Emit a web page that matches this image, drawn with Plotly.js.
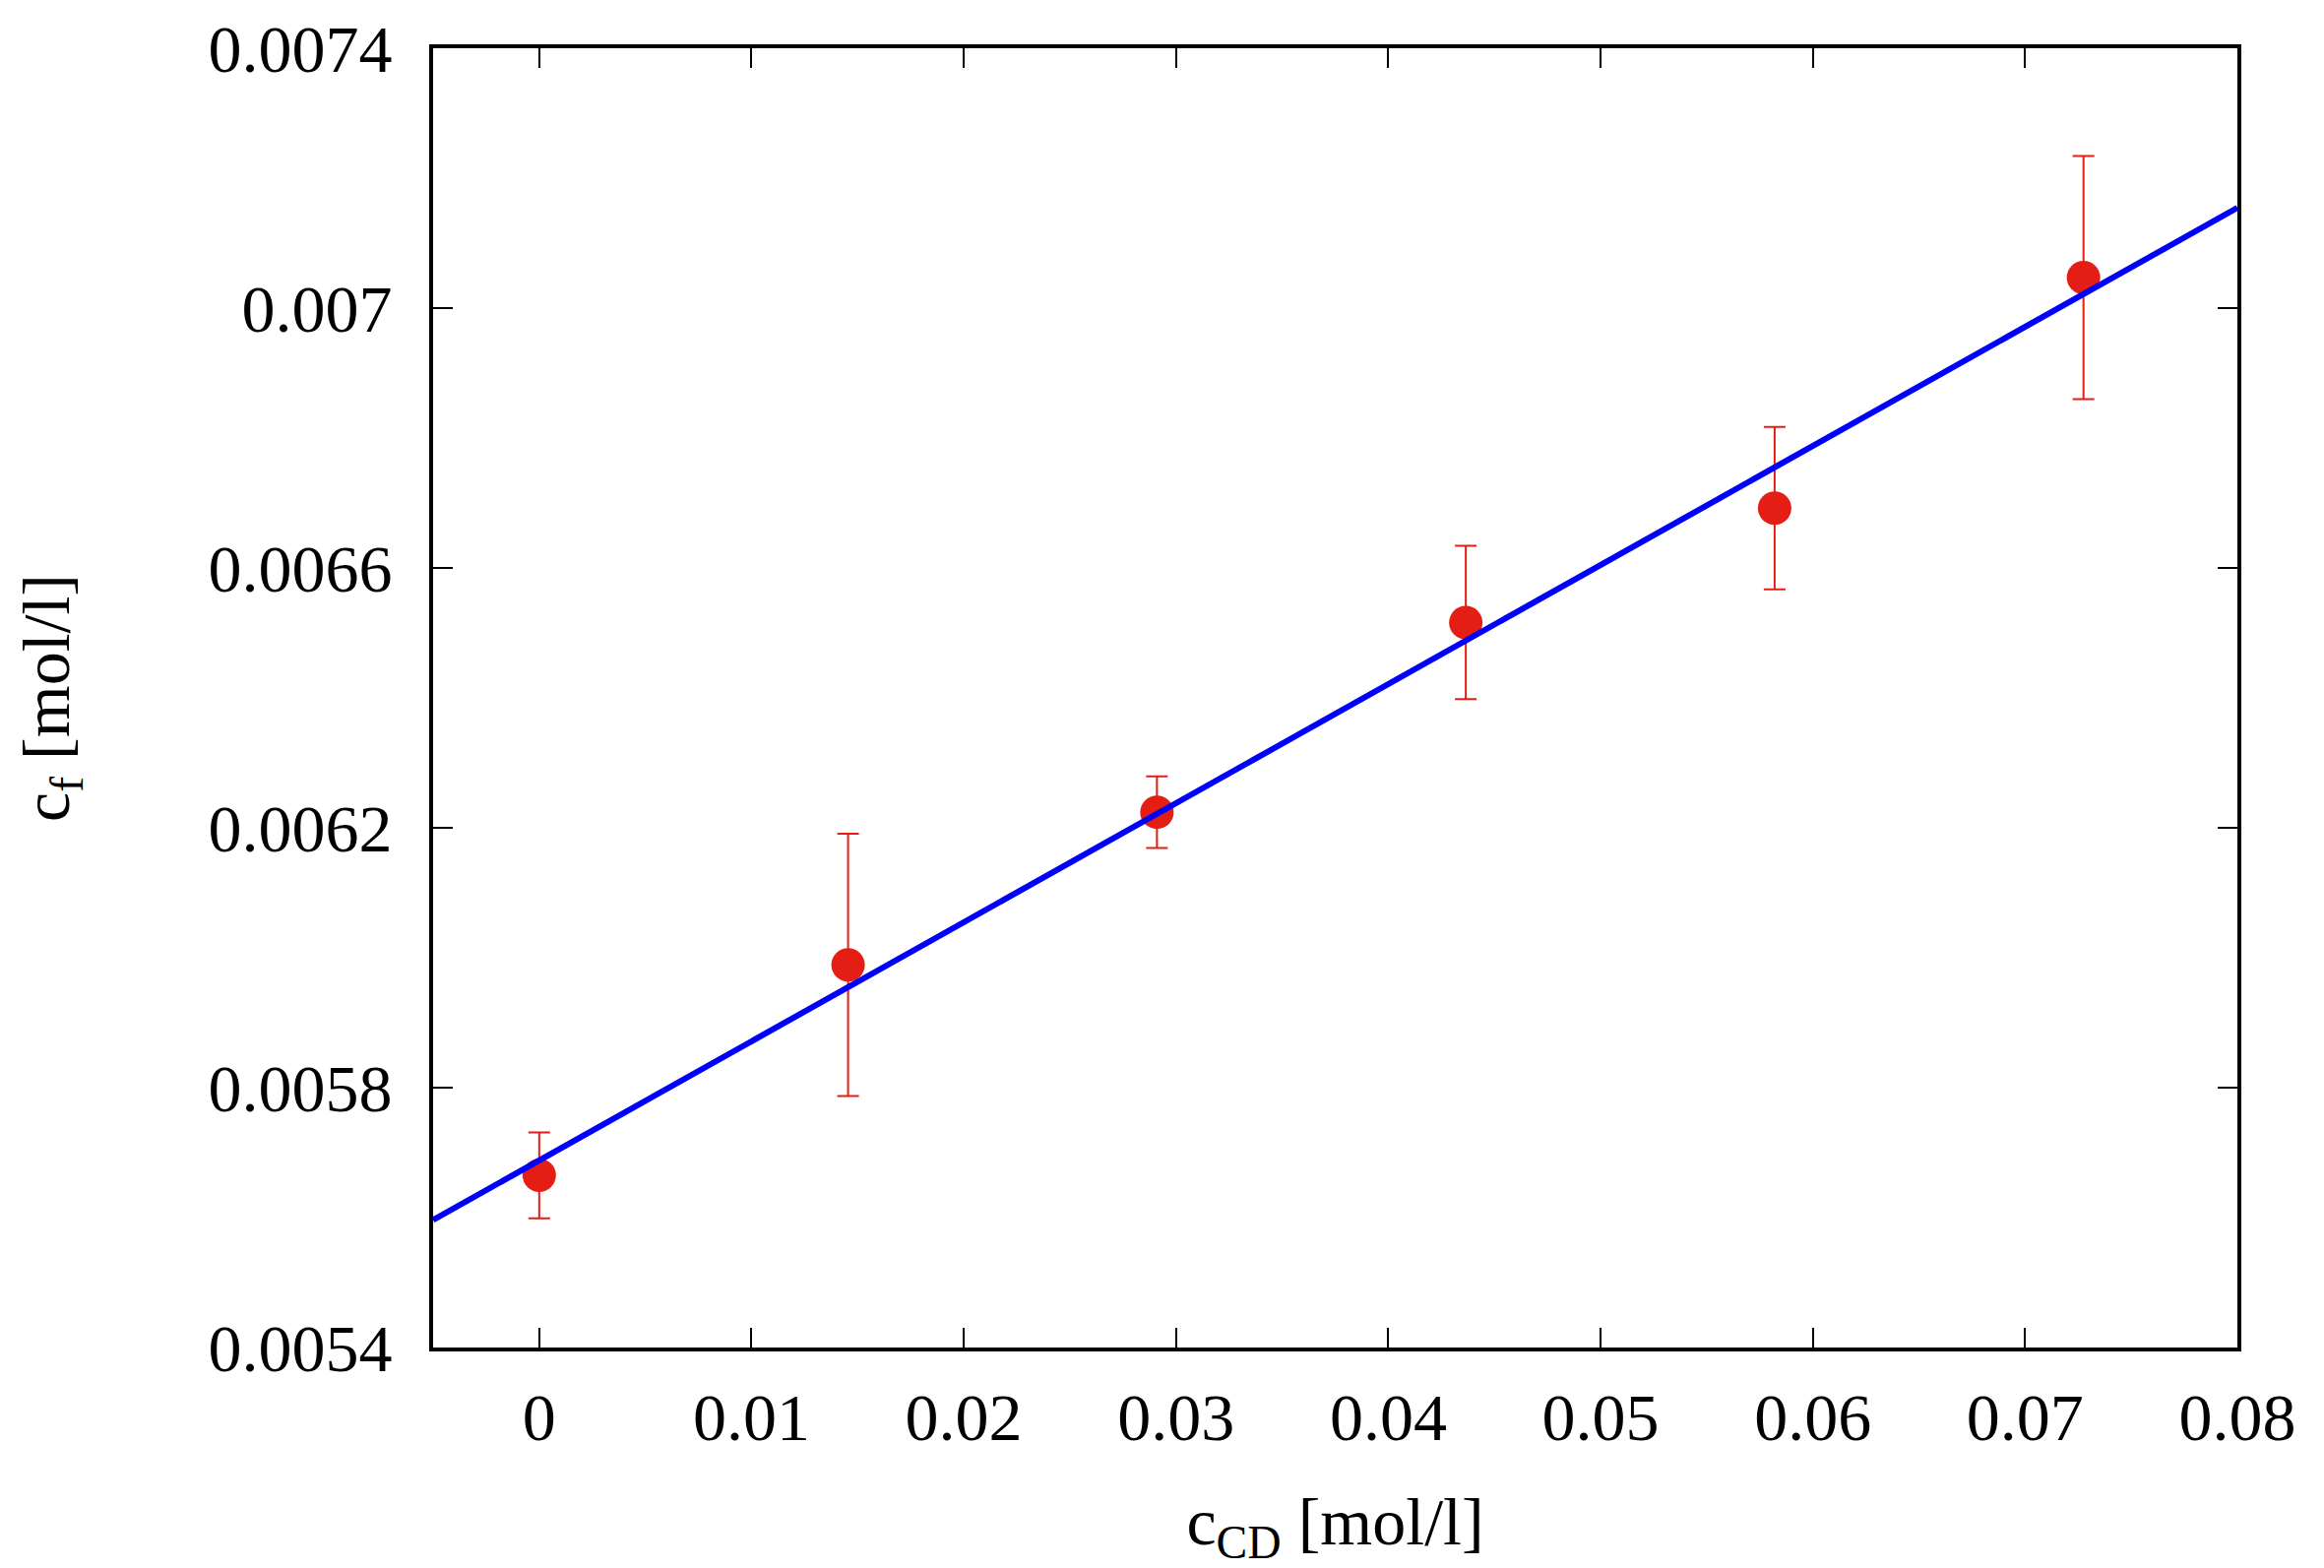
<!DOCTYPE html>
<html>
<head>
<meta charset="utf-8">
<script src="https://cdn.plot.ly/plotly-3.0.1.min.js"></script>
<style>html,body{margin:0;padding:0;background:#fff;}#chart{width:2361px;height:1593px;}</style>
</head>
<body>
<div id="chart"></div>
<script>
// Data
var cCD = [0, 0.01455, 0.0291, 0.04365, 0.0582, 0.07275];
var cF = [0.005665, 0.005989, 0.006224, 0.006516, 0.006692, 0.007047];
var cFErr = [0.000066, 0.000202, 0.000055, 0.000118, 0.000125, 0.000187];
// Linear fit parameters
var fitIntercept = 0.005688;
var fitSlope = 0.01833;
var fitRange = [-0.005, 0.08];

var xTicks = [0, 0.01, 0.02, 0.03, 0.04, 0.05, 0.06, 0.07, 0.08];
var xTickText = ['0', '0.01', '0.02', '0.03', '0.04', '0.05', '0.06', '0.07', '0.08'];
var yTicks = [0.0054, 0.0058, 0.0062, 0.0066, 0.007, 0.0074];
var yTickText = ['0.0054', '0.0058', '0.0062', '0.0066', '0.007', '0.0074'];

var fitY = fitRange.map(function (x) { return fitIntercept + fitSlope * x; });

var font = {family: 'Liberation Serif, Times New Roman, serif', size: 68, color: '#000'};

var data = [
  {
    x: cCD, y: cF, type: 'scatter', mode: 'markers',
    marker: {size: 34, color: '#e41e14'},
    error_y: {type: 'data', array: cFErr, visible: true, color: '#e41e14', thickness: 2, width: 11},
    hoverinfo: 'x+y', showlegend: false
  },
  {
    x: fitRange, y: fitY, type: 'scatter', mode: 'lines',
    line: {color: '#0000ff', width: 6},
    showlegend: false
  }
];

var axisCommon = {
  showline: true, linecolor: '#000', linewidth: 4, mirror: 'ticks',
  ticks: 'inside', ticklen: 20, tickwidth: 2, tickcolor: '#000',
  showgrid: false, zeroline: false, tickfont: font, tickmode: 'array'
};

var layout = {
  width: 2361, height: 1593,
  paper_bgcolor: '#fff', plot_bgcolor: '#fff',
  margin: {l: 440, r: 88, t: 49, b: 224},
  font: font,
  xaxis: Object.assign({}, axisCommon, {
    range: [-0.005, 0.08], tickvals: xTicks, ticktext: xTickText,
    ticklabelstandoff: 8,
    title: {text: 'c<sub>CD</sub> [mol/l]', font: font, standoff: 48}
  }),
  yaxis: Object.assign({}, axisCommon, {
    range: [0.0054, 0.0074], tickvals: yTicks, ticktext: yTickText,
    ticklabelstandoff: 24,
    title: {text: 'c<sub>f</sub> [mol/l]', font: font, standoff: 120}
  })
};

Plotly.newPlot('chart', data, layout, {displayModeBar: false, staticPlot: true});
</script>
</body>
</html>
